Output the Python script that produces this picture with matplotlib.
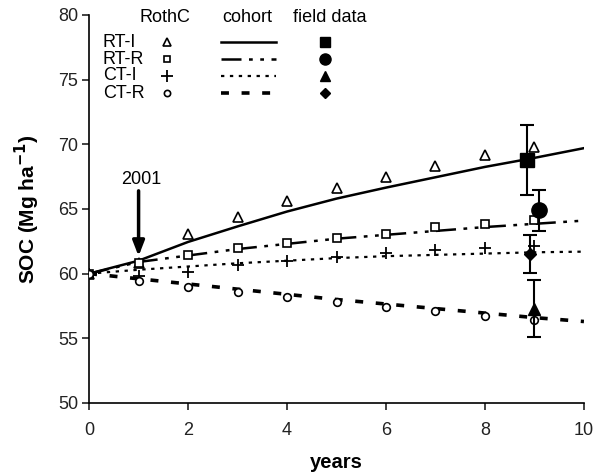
import matplotlib
matplotlib.use("Agg")
import matplotlib.pyplot as plt

plt.rcParams['font.family'] = ['Liberation Sans', 'DejaVu Sans']

treatments = ["RT-I", "RT-R", "CT-I", "CT-R"]

# RothC model (open markers)
rothc_years = [0, 1, 2, 3, 4, 5, 6, 7, 8, 9]
rothc_RT_I = [60.0, 60.8, 63.1, 64.4, 65.6, 66.6, 67.5, 68.3, 69.2, 69.8]
rothc_RT_R = [60.0, 60.8, 61.45, 62.0, 62.4, 62.75, 63.1, 63.6, 63.85, 64.15]
rothc_CT_I = [60.0, 59.8, 60.1, 60.65, 61.0, 61.3, 61.6, 61.8, 62.0, 62.1]
rothc_CT_R = [60.0, 59.45, 59.0, 58.55, 58.2, 57.8, 57.4, 57.1, 56.75, 56.4]

# cohort model (lines)
cohort_years = [0, 1, 2, 3, 4, 5, 6, 7, 8, 9, 10]
cohort_RT_I = [60.0, 61.0, 62.45, 63.65, 64.8, 65.8, 66.65, 67.45, 68.25, 68.95, 69.7]
cohort_RT_R = [60.0, 60.9, 61.4, 61.9, 62.3, 62.7, 63.0, 63.3, 63.6, 63.85, 64.1]
cohort_CT_I = [60.0, 60.3, 60.55, 60.8, 61.0, 61.2, 61.35, 61.45, 61.55, 61.65, 61.7]
cohort_CT_R = [60.0, 59.6, 59.2, 58.8, 58.4, 58.0, 57.65, 57.3, 56.95, 56.6, 56.3]

# field data (RT-I, RT-R, CT-I, CT-R)
field_x = [8.85, 9.1, 9.0, 8.9]
field_y = [68.8, 64.9, 57.3, 61.5]
field_err = [2.7, 1.6, 2.2, 1.45]

rothc_vals = [rothc_RT_I, rothc_RT_R, rothc_CT_I, rothc_CT_R]
cohort_vals = [cohort_RT_I, cohort_RT_R, cohort_CT_I, cohort_CT_R]

rothc_style = [dict(marker='^', ms=6.5, mfc='white', mec='black', mew=1.2),
               dict(marker='s', ms=6, mfc='white', mec='black', mew=1.2),
               dict(marker='+', ms=8, mec='black', mew=1.3),
               dict(marker='o', ms=5.5, mfc='white', mec='black', mew=1.2)]
cohort_style = [dict(linestyle='-', lw=1.8),
                dict(linestyle=(0, (8, 3, 1.5, 3, 1.5, 3)), lw=1.8),
                dict(linestyle=(0, (1.5, 2.5)), lw=1.6),
                dict(linestyle=(0, (2.2, 3.5)), lw=2.6)]
field_style = [dict(marker='s', ms=10),
               dict(marker='o', ms=11),
               dict(marker='^', ms=9),
               dict(marker='D', ms=6.5)]

fig = plt.figure(figsize=(6.02, 4.75), dpi=100)
ax = fig.add_axes([0.148, 0.1516, 0.822, 0.817])

for i in range(4):
    ax.plot(cohort_years, cohort_vals[i], color='black', **cohort_style[i], zorder=2)
for i in range(4):
    ax.plot(rothc_years, rothc_vals[i], linestyle='none', **rothc_style[i], zorder=3)
for i in range(4):
    ax.errorbar(field_x[i], field_y[i], yerr=field_err[i], fmt='none', ecolor='black',
                elinewidth=1.5, capsize=5, capthick=1.5, zorder=4)
    ax.plot(field_x[i], field_y[i], linestyle='none', color='black', **field_style[i], zorder=5)

ax.set_xlim(0, 10)
ax.set_ylim(50, 80)
ax.set_xticks([0, 2, 4, 6, 8, 10])
ax.set_yticks([50, 55, 60, 65, 70, 75, 80])
ax.spines['top'].set_visible(False)
ax.spines['right'].set_visible(False)
ax.spines['left'].set_linewidth(1.2)
ax.spines['bottom'].set_linewidth(1.2)
ax.tick_params(direction='out', length=5, width=1.2, labelsize=13, colors='#222222')
ax.tick_params(axis='x', pad=9)
ax.tick_params(axis='y', pad=3)
ax.set_xlabel('years', fontsize=14.5, fontweight='bold', labelpad=10)
ax.set_ylabel(r'SOC (Mg ha$^{\mathbf{-1}}$)', fontsize=15, fontweight='bold', labelpad=11)

# 2001 annotation
ax.annotate('', xy=(1.0, 61.35), xytext=(1.0, 66.4),
            arrowprops=dict(arrowstyle='-|>,head_width=0.35,head_length=0.9',
                            color='black', lw=2.5, shrinkA=0, shrinkB=0))
ax.text(1.05, 67.3, '2001', ha='center', va='center', fontsize=13)

# manual legend table
head_y = 79.8
row_y = [77.87, 76.58, 75.29, 73.95]
lab_x, mark_x, line_x0, line_x1, field_mx = 0.28, 1.58, 2.67, 3.78, 4.77
ax.text(1.54, head_y, 'RothC', ha='center', va='center', fontsize=13)
ax.text(3.19, head_y, 'cohort', ha='center', va='center', fontsize=13)
ax.text(4.87, head_y, 'field data', ha='center', va='center', fontsize=13)
legend_rothc = [dict(rothc_style[0], ms=5.5), dict(rothc_style[1], ms=5),
                dict(rothc_style[2], ms=8), dict(rothc_style[3], ms=4.5)]
legend_field = [dict(marker='s', ms=7), dict(marker='o', ms=8),
                dict(marker='^', ms=6.5), dict(marker='D', ms=5)]
for i, name in enumerate(treatments):
    ax.text(lab_x, row_y[i], name, ha='left', va='center', fontsize=13)
    ax.plot([mark_x], [row_y[i]], linestyle='none', clip_on=False, **legend_rothc[i])
    ax.plot([line_x0, line_x1], [row_y[i], row_y[i]], color='black', clip_on=False,
            **cohort_style[i])
    ax.plot([field_mx], [row_y[i]], linestyle='none', color='black', clip_on=False,
            **legend_field[i])

fig.savefig('out.png', dpi=100)
